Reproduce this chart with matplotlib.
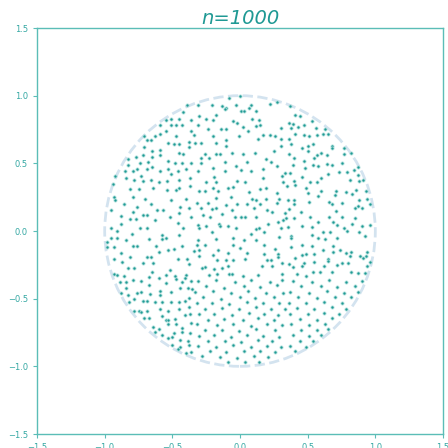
import numpy as np
import matplotlib
matplotlib.use("Agg")
import matplotlib.pyplot as plt

title = "n=1000"
radius = 1.0
ticks = [-1.5, -1.0, -0.5, 0.0, 0.5, 1.0, 1.5]

# points, one list per region of the disk
upper_left = [
    (-0.39, 0.93), (-0.42, 0.88), (-0.36, 0.82), (-0.51, 0.83), (-0.45, 0.83), (-0.55, 0.82),
    (-0.59, 0.78), (-0.51, 0.78), (-0.47, 0.78), (-0.43, 0.78), (-0.55, 0.74), (-0.36, 0.74),
    (-0.63, 0.70), (-0.59, 0.72), (-0.71, 0.70), (-0.47, 0.70), (-0.66, 0.67), (-0.69, 0.67),
    (-0.53, 0.65), (-0.49, 0.64), (-0.45, 0.64), (-0.38, 0.66), (-0.59, 0.60), (-0.65, 0.59),
    (-0.71, 0.62), (-0.38, 0.62), (-0.59, 0.56), (-0.45, 0.58), (-0.42, 0.57), (-0.77, 0.55),
    (-0.72, 0.56), (-0.65, 0.55), (-0.83, 0.53), (-0.53, 0.52), (-0.68, 0.51), (-0.74, 0.50),
    (-0.48, 0.50), (-0.43, 0.50), (-0.36, 0.50), (-0.83, 0.49), (-0.65, 0.47), (-0.69, 0.46),
    (-0.76, 0.46), (-0.53, 0.455), (-0.40, 0.46), (-0.85, 0.44), (-0.59, 0.44), (-0.46, 0.44),
    (-0.79, 0.44), (-0.73, 0.41), (-0.51, 0.42), (-0.92, 0.41), (-0.37, 0.39), (-0.84, 0.39),
    (-0.78, 0.38), (-0.66, 0.38), (-0.45, 0.38), (-0.72, 0.37), (-0.54, 0.37), (-0.60, 0.36),
    (-0.94, 0.35),
]
upper_mid = [
    (0.00, 1.00), (-0.08, 0.98), (-0.31, 0.93), (-0.21, 0.93), (-0.13, 0.92), (-0.10, 0.91),
    (-0.03, 0.93), (0.08, 0.93), (0.22, 0.94), (0.27, 0.95), (-0.11, 0.90), (0.07, 0.91),
    (0.01, 0.89), (0.03, 0.89), (0.12, 0.89), (-0.30, 0.85), (-0.18, 0.86), (-0.25, 0.83),
    (-0.20, 0.82), (-0.05, 0.81), (-0.02, 0.795), (0.14, 0.82), (0.09, 0.83), (0.15, 0.78),
    (0.12, 0.775), (0.30, 0.76), (-0.31, 0.785), (-0.24, 0.755), (-0.14, 0.755), (-0.10, 0.75),
    (0.02, 0.765), (0.06, 0.74), (-0.34, 0.71), (-0.20, 0.70), (-0.01, 0.70), (0.17, 0.71),
    (0.22, 0.71), (0.26, 0.70), (0.13, 0.68), (0.30, 0.68), (-0.18, 0.65), (-0.29, 0.65),
    (-0.33, 0.65), (-0.10, 0.67), (-0.10, 0.63), (-0.06, 0.58), (0.11, 0.58), (0.25, 0.59),
    (0.30, 0.63), (-0.26, 0.57), (-0.18, 0.57), (-0.15, 0.57), (0.02, 0.57), (-0.29, 0.54),
    (-0.23, 0.54), (0.05, 0.51), (0.19, 0.53), (0.23, 0.51), (-0.29, 0.50), (-0.11, 0.51),
    (-0.03, 0.48), (0.27, 0.48), (-0.20, 0.465), (0.01, 0.45), (0.08, 0.44), (0.17, 0.455),
    (-0.31, 0.44), (-0.11, 0.44), (0.31, 0.41), (0.33, 0.43), (-0.19, 0.40), (0.17, 0.39),
    (-0.02, 0.37), (0.04, 0.36), (-0.25, 0.36), (-0.18, 0.36), (0.32, 0.36),
]
upper_right = [
    (0.37, 0.92), (0.41, 0.86), (0.44, 0.85), (0.36, 0.795), (0.39, 0.79), (0.43, 0.77),
    (0.53, 0.81), (0.38, 0.76), (0.47, 0.78), (0.56, 0.76), (0.63, 0.755), (0.41, 0.72),
    (0.36, 0.68), (0.38, 0.64), (0.47, 0.71), (0.51, 0.70), (0.57, 0.71), (0.61, 0.72),
    (0.65, 0.72), (0.50, 0.63), (0.54, 0.64), (0.46, 0.61), (0.68, 0.63), (0.68, 0.61),
    (0.77, 0.61), (0.50, 0.59), (0.36, 0.57), (0.60, 0.58), (0.57, 0.56), (0.64, 0.56),
    (0.77, 0.57), (0.40, 0.54), (0.47, 0.52), (0.55, 0.54), (0.82, 0.58), (0.39, 0.485),
    (0.54, 0.49), (0.58, 0.48), (0.64, 0.495), (0.68, 0.49), (0.75, 0.505), (0.87, 0.47),
    (0.84, 0.45), (0.48, 0.465), (0.73, 0.435), (0.79, 0.435), (0.37, 0.425), (0.65, 0.42),
    (0.87, 0.416), (0.46, 0.40), (0.60, 0.39), (0.81, 0.38), (0.40, 0.37), (0.52, 0.36),
    (0.57, 0.36), (0.88, 0.37), (0.91, 0.38),
]
mid_left = [
    (-0.81, 0.31), (-0.75, 0.31), (-0.64, 0.32), (-0.54, 0.30), (-0.47, 0.30), (-0.37, 0.33),
    (-0.45, 0.315), (-0.93, 0.25), (-0.92, 0.23), (-0.86, 0.20), (-0.79, 0.25), (-0.70, 0.24),
    (-0.51, 0.23), (-0.40, 0.24), (-0.66, 0.20), (-0.44, 0.18), (-0.38, 0.17), (-0.76, 0.18),
    (-0.95, 0.153), (-0.79, 0.14), (-0.61, 0.153), (-0.57, 0.153), (-0.45, 0.13), (-0.88, 0.11),
    (-0.72, 0.12), (-0.69, 0.12), (-0.52, 0.10), (-0.81, 0.09), (-0.77, 0.09), (-0.63, 0.084),
    (-0.36, 0.10), (-0.88, 0.054), (-0.46, 0.06), (-0.95, 0.025), (-0.91, 0.00), (-0.74, 0.02),
    (-0.69, 0.02), (-0.42, 0.02), (-0.80, -0.02), (-0.58, -0.03), (-0.45, -0.03), (-0.95, -0.054),
    (-0.91, -0.054), (-0.67, -0.06), (-0.58, -0.06), (-0.55, -0.054), (-0.98, -0.08), (-0.84, -0.07),
    (-0.98, -0.118), (-0.93, -0.118), (-0.79, -0.108), (-0.76, -0.113), (-0.62, -0.113), (-0.43, -0.113),
    (-0.49, -0.13), (-0.53, -0.14), (-0.88, -0.16), (-0.81, -0.19), (-0.69, -0.19), (-0.66, -0.19),
    (-0.60, -0.158), (-0.93, -0.21), (-0.46, -0.21), (-0.39, -0.21), (-0.87, -0.23), (-0.72, -0.24),
    (-0.64, -0.237), (-0.38, -0.246), (-0.78, -0.27), (-0.83, -0.276), (-0.65, -0.30), (-0.52, -0.29),
    (-0.93, -0.32), (-0.91, -0.325), (-0.86, -0.335), (-0.67, -0.34), (-0.55, -0.325), (-0.48, -0.335),
    (-0.40, -0.325),
]
center = [
    (-0.30, 0.296), (-0.26, 0.296), (-0.20, 0.32), (-0.16, 0.296), (-0.09, 0.32), (-0.05, 0.325),
    (0.07, 0.29), (0.15, 0.31), (0.19, 0.315), (0.27, 0.28), (-0.32, 0.21), (-0.24, 0.21),
    (-0.18, 0.246), (-0.07, 0.25), (0.09, 0.24), (0.12, 0.23), (0.19, 0.24), (0.29, 0.24),
    (-0.10, 0.19), (-0.02, 0.197), (0.05, 0.20), (0.15, 0.20), (0.27, 0.21), (-0.29, 0.17),
    (-0.21, 0.163), (-0.18, 0.17), (-0.06, 0.158), (0.10, 0.17), (-0.27, 0.12), (-0.13, 0.128),
    (0.20, 0.158), (0.24, 0.143), (0.33, 0.133), (-0.22, 0.10), (0.04, 0.10), (0.01, 0.103),
    (0.12, 0.10), (-0.04, 0.10), (0.32, 0.084), (0.28, 0.07), (-0.155, 0.05), (-0.145, 0.034),
    (-0.09, 0.04), (0.21, 0.054), (-0.31, 0.044), (-0.25, 0.034), (-0.30, 0.02), (-0.03, 0.02),
    (0.12, 0.015), (0.14, 0.025), (0.30, 0.02), (-0.21, -0.01), (0.08, -0.025), (0.18, -0.01),
    (-0.05, -0.054), (-0.18, -0.06), (-0.31, -0.064), (0.03, -0.064), (0.12, -0.069), (0.29, -0.044),
    (-0.32, -0.10), (-0.26, -0.10), (-0.05, -0.10), (0.18, -0.10), (0.00, -0.123), (-0.34, -0.148),
    (-0.30, -0.143), (-0.16, -0.138), (0.26, -0.133), (-0.20, -0.177), (0.05, -0.163), (-0.09, -0.163),
    (0.18, -0.168), (0.28, -0.168), (-0.30, -0.182), (-0.05, -0.212), (-0.17, -0.217), (-0.10, -0.217),
    (0.04, -0.207), (0.20, -0.212), (0.23, -0.212), (0.28, -0.192), (-0.09, -0.256), (0.16, -0.256),
    (0.24, -0.261), (-0.26, -0.266), (0.31, -0.237), (-0.28, -0.276), (-0.19, -0.28), (-0.13, -0.276),
    (-0.17, -0.315), (-0.08, -0.32), (-0.06, -0.315), (0.02, -0.33), (0.13, -0.325), (0.31, -0.32),
    (-0.23, -0.325),
]
mid_right = [
    (0.35, 0.33), (0.41, 0.34), (0.49, 0.315), (0.60, 0.296), (0.71, 0.296), (0.78, 0.29),
    (0.86, 0.305), (0.93, 0.296), (0.355, 0.227), (0.40, 0.227), (0.50, 0.28), (0.58, 0.256),
    (0.70, 0.266), (0.83, 0.276), (0.88, 0.227), (0.94, 0.24), (0.40, 0.197), (0.51, 0.217),
    (0.66, 0.217), (0.68, 0.202), (0.75, 0.207), (0.87, 0.187), (0.96, 0.202), (0.36, 0.163),
    (0.45, 0.138), (0.71, 0.148), (0.85, 0.168), (0.90, 0.168), (0.40, 0.094), (0.52, 0.10),
    (0.66, 0.10), (0.75, 0.10), (0.85, 0.094), (0.34, 0.094), (0.58, 0.07), (0.355, 0.03),
    (0.46, 0.034), (0.53, 0.03), (0.685, 0.07), (0.715, 0.044), (0.83, 0.054), (0.90, 0.034),
    (0.96, 0.044), (0.61, -0.005), (0.665, -0.005), (0.79, 0.00), (0.88, -0.005), (0.77, 0.025),
    (0.38, -0.034), (0.53, -0.03), (0.375, -0.054), (0.58, -0.05), (0.63, -0.06), (0.72, -0.054),
    (0.92, -0.04), (0.38, -0.118), (0.46, -0.10), (0.53, -0.113), (0.69, -0.108), (0.61, -0.138),
    (0.685, -0.158), (0.74, -0.138), (0.78, -0.163), (0.82, -0.153), (0.46, -0.177), (0.49, -0.168),
    (0.55, -0.168), (0.89, -0.182), (0.94, -0.158), (0.41, -0.197), (0.65, -0.207), (0.65, -0.222),
    (0.81, -0.187), (0.91, -0.202), (0.93, -0.187), (0.47, -0.237), (0.55, -0.232), (0.75, -0.237),
    (0.96, -0.227), (0.365, -0.246), (0.39, -0.266), (0.46, -0.261), (0.62, -0.261), (0.72, -0.25),
    (0.80, -0.24), (0.94, -0.256), (0.54, -0.30), (0.59, -0.30), (0.68, -0.306), (0.82, -0.306),
    (0.87, -0.31), (0.92, -0.31), (0.42, -0.32), (0.49, -0.33),
]
lower_left = [
    (-0.89, -0.38), (-0.84, -0.38), (-0.79, -0.36), (-0.73, -0.37), (-0.67, -0.396), (-0.60, -0.347),
    (-0.55, -0.386), (-0.47, -0.357), (-0.43, -0.38), (-0.41, -0.347), (-0.365, -0.37), (-0.88, -0.455),
    (-0.84, -0.42), (-0.83, -0.47), (-0.78, -0.505), (-0.76, -0.46), (-0.73, -0.45), (-0.665, -0.465),
    (-0.59, -0.446), (-0.59, -0.47), (-0.51, -0.45), (-0.44, -0.42), (-0.385, -0.42), (-0.355, -0.43),
    (-0.82, -0.525), (-0.72, -0.515), (-0.685, -0.52), (-0.63, -0.525), (-0.58, -0.525), (-0.51, -0.525),
    (-0.45, -0.525), (-0.41, -0.52), (-0.375, -0.495), (-0.78, -0.59), (-0.75, -0.59), (-0.73, -0.60),
    (-0.69, -0.59), (-0.59, -0.58), (-0.53, -0.59), (-0.45, -0.574), (-0.375, -0.564), (-0.71, -0.643),
    (-0.67, -0.643), (-0.58, -0.63), (-0.55, -0.658), (-0.53, -0.658), (-0.48, -0.653), (-0.41, -0.62),
    (-0.37, -0.61), (-0.64, -0.71), (-0.60, -0.727), (-0.53, -0.69), (-0.47, -0.687), (-0.43, -0.717),
    (-0.36, -0.677), (-0.63, -0.746), (-0.49, -0.751), (-0.43, -0.746), (-0.37, -0.756), (-0.577, -0.771),
    (-0.53, -0.79), (-0.50, -0.78), (-0.44, -0.805), (-0.385, -0.81), (-0.50, -0.845), (-0.44, -0.86),
    (-0.38, -0.845), (-0.46, -0.875), (-0.40, -0.905), (-0.365, -0.894),
]
# lower part, estimated from the full view only
lower_mid = [
    (-0.31, -0.37), (-0.18, -0.36), (-0.04, -0.38), (0.08, -0.365), (0.22, -0.375), (0.31, -0.36),
    (-0.25, -0.41), (-0.12, -0.42), (0.03, -0.405), (0.15, -0.415), (0.27, -0.40),
    (-0.33, -0.45), (-0.20, -0.445), (-0.07, -0.46), (0.06, -0.44), (0.19, -0.455), (0.32, -0.46),
    (-0.27, -0.49), (-0.14, -0.50), (0.00, -0.485), (0.11, -0.495), (0.25, -0.49),
    (-0.32, -0.535), (-0.21, -0.53), (-0.08, -0.54), (0.05, -0.525), (0.17, -0.535), (0.29, -0.53),
    (-0.26, -0.575), (-0.13, -0.57), (-0.01, -0.58), (0.12, -0.565), (0.23, -0.575), (0.33, -0.575),
    (-0.30, -0.615), (-0.19, -0.61), (-0.06, -0.62), (0.07, -0.605), (0.18, -0.615), (0.28, -0.62),
    (-0.24, -0.655), (-0.12, -0.65), (0.02, -0.66), (0.13, -0.645), (0.25, -0.655),
    (-0.32, -0.69), (-0.17, -0.695), (-0.05, -0.685), (0.08, -0.70), (0.20, -0.69), (0.31, -0.695),
    (-0.26, -0.735), (-0.13, -0.73), (-0.01, -0.74), (0.12, -0.725), (0.26, -0.735),
    (-0.30, -0.775), (-0.19, -0.77), (-0.07, -0.78), (0.05, -0.765), (0.17, -0.775), (0.29, -0.78),
    (-0.24, -0.815), (-0.11, -0.81), (0.01, -0.82), (0.13, -0.805), (0.24, -0.815),
    (-0.31, -0.85), (-0.18, -0.855), (-0.05, -0.845), (0.08, -0.86), (0.20, -0.85), (0.30, -0.855),
    (-0.22, -0.89), (-0.10, -0.895), (0.03, -0.885), (0.15, -0.89), (0.26, -0.895),
    (-0.28, -0.925), (-0.15, -0.93), (-0.02, -0.935), (0.10, -0.925), (0.21, -0.93),
    (-0.09, -0.97), (0.04, -0.965), (0.14, -0.97),
]
lower_right = [
    (0.39, -0.37), (0.53, -0.38), (0.66, -0.365), (0.78, -0.375), (0.90, -0.37),
    (0.45, -0.41), (0.60, -0.405), (0.72, -0.415), (0.85, -0.41),
    (0.37, -0.45), (0.51, -0.455), (0.64, -0.445), (0.77, -0.455), (0.87, -0.45),
    (0.43, -0.49), (0.57, -0.495), (0.70, -0.485), (0.82, -0.49),
    (0.36, -0.53), (0.49, -0.535), (0.62, -0.525), (0.75, -0.535),
    (0.42, -0.57), (0.55, -0.575), (0.68, -0.565), (0.78, -0.575),
    (0.37, -0.61), (0.50, -0.615), (0.62, -0.605), (0.73, -0.615),
    (0.44, -0.65), (0.57, -0.655), (0.68, -0.645),
    (0.38, -0.69), (0.51, -0.695), (0.63, -0.685),
    (0.45, -0.73), (0.57, -0.735), (0.65, -0.725),
    (0.39, -0.77), (0.51, -0.775), (0.60, -0.765),
    (0.44, -0.81), (0.54, -0.815),
    (0.37, -0.85), (0.49, -0.855),
    (0.41, -0.89),
]

regions = [upper_left, upper_mid, upper_right, mid_left, center, mid_right,
           lower_left, lower_mid, lower_right]
pts = np.array([p for r in regions for p in r])

fig = plt.figure(figsize=(4.48, 4.48), dpi=100)
ax = fig.add_axes([37 / 448, 14 / 448, 406 / 448, 406 / 448])

edge_col = "#5bbdb7"
text_col = "#35a8a3"

ax.add_patch(plt.Circle((0, 0), radius, fill=False, ls="--", lw=2,
                        color="#c9dcec", alpha=0.8))
# dark teal core with a pale halo, like the reference dots
ax.scatter(pts[:, 0], pts[:, 1], s=5, color="#1f9994", edgecolors="#a8dcd8",
           linewidths=0.6, zorder=3)

ax.set_xlim(-1.5, 1.5)
ax.set_ylim(-1.5, 1.5)
ax.set_aspect("equal")
ax.set_xticks(ticks)
ax.set_yticks(ticks)
ax.tick_params(colors=edge_col, labelcolor=text_col, labelsize=6, length=3, width=0.8)
for s in ax.spines.values():
    s.set_color(edge_col)
    s.set_linewidth(1.0)

ax.set_title(title, fontsize=14, style="italic", color="#1f9994", pad=3)

fig.savefig("out.png", dpi=100)
